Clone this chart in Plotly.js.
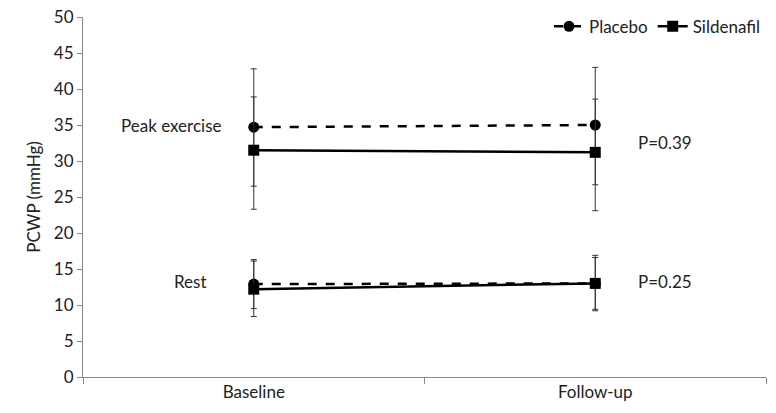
<!DOCTYPE html>
<html><head><script src="https://cdn.plot.ly/plotly-3.0.1.min.js"></script>
<style>body{margin:0}</style></head><body>
<div id="chart" style="width:776px;height:413px"></div>
<script>
const categories = ['Baseline', 'Follow-up'];
const xPos = [0, 1];
// peak exercise
const peakPlacebo = [34.7, 35.0];
const peakPlaceboUp = [8.1, 8.0];
const peakPlaceboDown = [8.2, 8.3];
const peakSildenafil = [31.5, 31.2];
const peakSildenafilUp = [7.4, 7.4];
const peakSildenafilDown = [8.2, 8.1];
// rest
const restPlacebo = [12.9, 13.0];
const restPlaceboUp = [3.4, 3.9];
const restPlaceboDown = [3.4, 3.8];
const restSildenafil = [12.2, 13.0];
const restSildenafilUp = [3.9, 3.6];
const restSildenafilDown = [3.8, 3.6];

function trace(y, up, down, dash, symbol, name, show) {
  return {
    x: xPos, y: y, type: 'scatter', mode: 'lines+markers', name: name, showlegend: show,
    line: {color: 'black', width: 2.5, dash: dash},
    marker: {symbol: symbol, size: 11, color: 'black'},
    error_y: {type: 'data', symmetric: false, array: up, arrayminus: down, color: '#333', thickness: 1, width: 3}
  };
}
const data = [
  trace(peakPlacebo, peakPlaceboUp, peakPlaceboDown, 'dash', 'circle', 'Placebo', true),
  trace(peakSildenafil, peakSildenafilUp, peakSildenafilDown, 'solid', 'square', 'Sildenafil', true),
  trace(restPlacebo, restPlaceboUp, restPlaceboDown, 'dash', 'circle', 'Placebo', false),
  trace(restSildenafil, restSildenafilUp, restSildenafilDown, 'solid', 'square', 'Sildenafil', false)
];
const font = {family: 'Lato, Open Sans, sans-serif', size: 17, color: '#222'};
const layout = {
  margin: {l: 83, r: 10, t: 16, b: 36},
  font: font, showlegend: true,
  legend: {orientation: 'h', x: 1, xanchor: 'right', y: 1.02, yanchor: 'top', font: {size: 17}, itemwidth: 30},
  xaxis: {range: [-0.5, 1.5], tickvals: xPos, ticktext: categories, ticks: '', showgrid: false, zeroline: false,
    showline: true, linecolor: '#888', minor: {tick0: 0.5, dtick: 1, ticks: 'outside', ticklen: 6, tickcolor: '#888'}},
  yaxis: {range: [0, 50], dtick: 5, ticks: 'outside', ticklen: 5, tickcolor: '#888', showgrid: false, zeroline: false,
    showline: true, linecolor: '#888', title: {text: 'PCWP (mmHg)', font: {size: 17}, standoff: 8}},
  annotations: [
    {x: -0.09, y: 34.9, xref: 'x', yref: 'y', text: 'Peak exercise', showarrow: false, xanchor: 'right'},
    {x: -0.13, y: 13.3, xref: 'x', yref: 'y', text: 'Rest', showarrow: false, xanchor: 'right'},
    {x: 1.12, y: 32.6, xref: 'x', yref: 'y', text: 'P=0.39', showarrow: false, xanchor: 'left'},
    {x: 1.12, y: 13.2, xref: 'x', yref: 'y', text: 'P=0.25', showarrow: false, xanchor: 'left'}
  ]
};
Plotly.newPlot('chart', data, layout, {displayModeBar: false});
</script></body></html>
